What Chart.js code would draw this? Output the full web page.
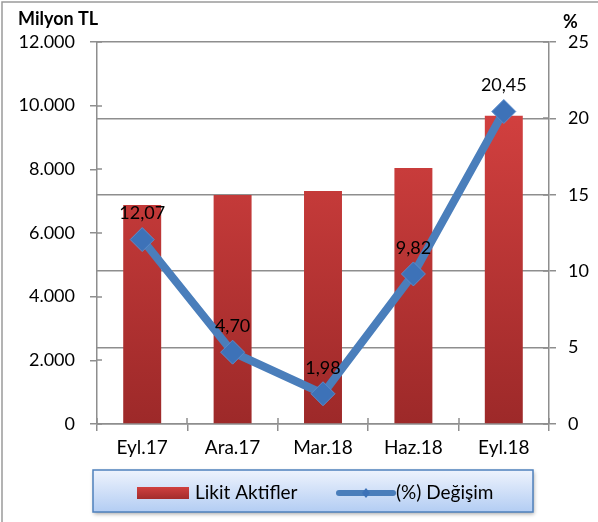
<!DOCTYPE html>
<html>
<head>
<meta charset="utf-8">
<script src="https://cdn.jsdelivr.net/npm/chart.js@4.4.1/dist/chart.umd.min.js"></script>
<style>
	html, body { margin:0; padding:0; background:#fff; }
	#wrap { width:598px; height:522px; position:relative; }
</style>
</head>
<body>
<div id="wrap"><canvas id="chart" width="598" height="522"></canvas></div>
<script>
// data
const categories = ['Eyl.17', 'Ara.17', 'Mar.18', 'Haz.18', 'Eyl.18'];
const likitAktifler = [6880, 7190, 7320, 8040, 9680];     // Milyon TL
const degisim = [12.07, 4.70, 1.98, 9.82, 20.45];          // %
const leftTicks = [0, 2000, 4000, 6000, 8000, 10000, 12000];
const rightTicks = [0, 5, 10, 15, 20, 25];

const FONT = 'Lato, "Open Sans", sans-serif';
const AXIS_GREY = '#8e8e8e';

function trNumber(v){
	return v.toLocaleString('tr-TR');
}

// frame, titles, inner ticks, data labels, legend
const decor = {
	id: 'decor',
	beforeDraw(chart){
		const c = chart.ctx;
		c.save();
		c.strokeStyle = '#9a9a9a';
		c.lineWidth = 1.5;
		c.beginPath();
		c.moveTo(2, 522); c.lineTo(2, 2); c.lineTo(598, 2);
		c.stroke();
		c.restore();
	},
	afterDraw(chart){
		const c = chart.ctx;
		const area = chart.chartArea;
		const yL = chart.scales.y, yR = chart.scales.y1;
		c.save();
		// inner tick marks
		c.strokeStyle = AXIS_GREY;
		c.lineWidth = 1.5;
		c.beginPath();
		leftTicks.forEach(v=>{ const p = Math.round(yL.getPixelForValue(v)); c.moveTo(area.left, p); c.lineTo(area.left + 5, p); });
		rightTicks.forEach(v=>{ const p = Math.round(yR.getPixelForValue(v)); c.moveTo(area.right - 6, p); c.lineTo(area.right, p); });
		for(let i = 0; i <= categories.length; i++){
			const px = Math.round(area.left + (area.right - area.left) * i / categories.length);
			c.moveTo(px, area.bottom - 6); c.lineTo(px, area.bottom);
		}
		c.stroke();

		// titles
		c.fillStyle = '#000';
		c.font = 'bold 18px ' + FONT;
		c.textBaseline = 'middle';
		c.textAlign = 'left';
		c.fillText('Milyon TL', 18, 19);
		c.fillText('%', 563, 22);

		// data labels of the line
		const meta = chart.getDatasetMeta(1);
		c.font = '18px ' + FONT;
		c.textAlign = 'center';
		meta.data.forEach((pt, i)=>{
			c.fillText(degisim[i].toFixed(2).replace('.', ','), pt.x, pt.y - 26);
		});

		// legend box
		const bx = 93, by = 470, bw = 440, bh = 42;
		c.shadowColor = 'rgba(0,0,0,0.35)';
		c.shadowBlur = 4;
		c.shadowOffsetX = 1;
		c.shadowOffsetY = 2;
		const g = c.createLinearGradient(0, by, 0, by + bh);
		g.addColorStop(0, '#eef3fd');
		g.addColorStop(1, '#b3cdf3');
		c.fillStyle = g;
		c.fillRect(bx, by, bw, bh);
		c.shadowColor = 'transparent';
		c.strokeStyle = '#4f81bd';
		c.lineWidth = 1.5;
		c.strokeRect(bx, by, bw, bh);

		const ly = by + bh / 2 + 2;
		const rg = c.createLinearGradient(0, ly - 6, 0, ly + 6);
		rg.addColorStop(0, '#d0403f');
		rg.addColorStop(1, '#a32c2c');
		c.fillStyle = rg;
		c.fillRect(137, ly - 6, 52, 12);
		c.fillStyle = '#000';
		c.textAlign = 'left';
		c.font = '19px ' + FONT;
		c.fillText(chart.data.datasets[0].label, 195, ly);

		c.strokeStyle = '#4a7ebb';
		c.lineWidth = 6;
		c.lineCap = 'round';
		c.beginPath(); c.moveTo(339, ly); c.lineTo(393, ly); c.stroke();
		c.fillStyle = '#3d72b8';
		c.beginPath();
		c.moveTo(366, ly - 5); c.lineTo(370, ly); c.lineTo(366, ly + 5); c.lineTo(362, ly);
		c.closePath(); c.fill();
		c.fillStyle = '#000';
		c.fillText(chart.data.datasets[1].label, 396, ly);
		c.restore();
	}
};

const ctx = document.getElementById('chart').getContext('2d');
const barGrad = ctx.createLinearGradient(0, 110, 0, 424);
barGrad.addColorStop(0, '#d2403f');
barGrad.addColorStop(1, '#9d2929');

new Chart(ctx, {
	data: {
		labels: categories,
		datasets: [
			{
				type: 'bar',
				label: 'Likit Aktifler',
				data: likitAktifler,
				yAxisID: 'y',
				backgroundColor: barGrad,
				categoryPercentage: 0.84,
				barPercentage: 0.5,
				order: 2
			},
			{
				type: 'line',
				label: '(%) Değişim',
				data: degisim,
				yAxisID: 'y1',
				borderColor: '#4a7ebb',
				borderWidth: 8,
				pointStyle: 'rectRot',
				pointRadius: 12,
				pointBackgroundColor: '#3d72b8',
				pointBorderColor: '#5a8ccc',
				pointBorderWidth: 1,
				tension: 0,
				order: 1
			}
		]
	},
	options: {
		responsive: false,
		animation: false,
		layout: { padding: { top: 42, bottom: 52, left: 0, right: 0 } },
		plugins: {
			legend: { display: false },
			tooltip: { enabled: false }
		},
		scales: {
			x: {
				grid: { display: true, offset: true, drawOnChartArea: false, color: AXIS_GREY, lineWidth: 1.5, tickLength: 7 },
				border: { color: AXIS_GREY, width: 1.5 },
				ticks: { color: '#000', font: { family: FONT, size: 19 }, padding: 5 },
				afterFit(s){ s.height = 46; }
			},
			y: {
				position: 'left',
				min: 0, max: 12000,
				afterBuildTicks(s){ s.ticks = leftTicks.map(v=>({ value: v })); },
				grid: { drawOnChartArea: false, color: AXIS_GREY, lineWidth: 1.5, tickLength: 7 },
				border: { color: AXIS_GREY, width: 1.5 },
				ticks: { color: '#000', font: { family: FONT, size: 18 }, padding: 15, callback: v => trNumber(v) },
				afterFit(s){ s.width = 97; }
			},
			y1: {
				position: 'right',
				min: 0, max: 25,
				afterBuildTicks(s){ s.ticks = rightTicks.map(v=>({ value: v })); },
				grid: { drawOnChartArea: true, color: AXIS_GREY, lineWidth: 1.5, tickLength: 7 },
				border: { color: AXIS_GREY, width: 1.5 },
				ticks: { color: '#000', font: { family: FONT, size: 18 }, padding: 12 },
				afterFit(s){ s.width = 49; }
			}
		}
	},
	plugins: [decor]
});
</script>
</body>
</html>
